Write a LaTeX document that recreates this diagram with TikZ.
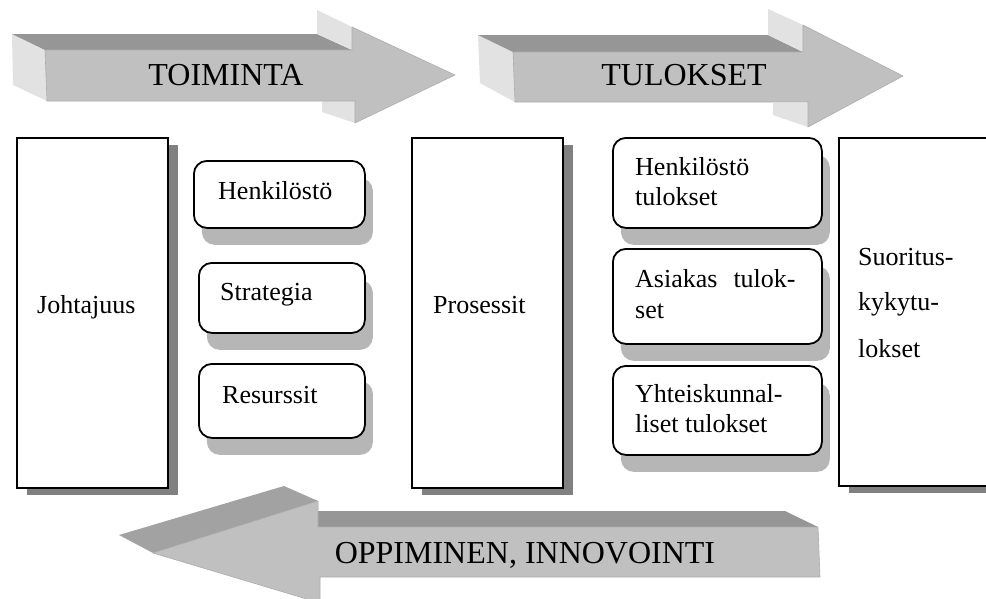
\documentclass[tikz,border=0pt]{standalone}
\usepackage{fontspec}
\setmainfont{Liberation Serif}
\usetikzlibrary{shadows}
\definecolor{frontgray}{HTML}{C0C0C0}
\definecolor{topgray}{HTML}{969696}
\definecolor{headgray}{HTML}{A2A2A2}
\definecolor{sidegray}{HTML}{E2E2E2}
\definecolor{edgegray}{HTML}{ADADAD}
\definecolor{shadowgray}{HTML}{808080}
\definecolor{softshadow}{HTML}{B6B6B6}
\begin{document}
\begin{tikzpicture}[x=1pt,y=-1pt,
  bigbox/.style={draw=black, line width=1.6pt, fill=white, rectangle, inner sep=0pt,
    anchor=north west,
    drop shadow={shadow xshift=10pt, shadow yshift=-7pt, fill=shadowgray, opacity=1}},
  softbox/.style={draw=black, line width=1.8pt, fill=white, rectangle, rounded corners=13pt,
    inner sep=0pt, anchor=north west,
    drop shadow={shadow xshift=8pt, shadow yshift=-17pt, fill=softshadow, opacity=1}},
  lbl/.style={anchor=base west, inner sep=0pt, font=\fontsize{26}{30}\selectfont},
  arrowlbl/.style={anchor=base, inner sep=0pt, font=\fontsize{32}{38}\selectfont},
  frontface/.style={fill=frontgray, draw=edgegray, line width=0.6pt, line join=round},
]
\useasboundingbox (0,0) rectangle (986,598);
\fill[white] (0,0) rectangle (986,598);

% ---------- top arrow 1: TOIMINTA ----------
\fill[sidegray] (12,34) -- (45,50) -- (47,101) -- (13,85) -- cycle;
\fill[topgray] (12,34) -- (317,34) -- (352,50) -- (45,50) -- cycle;
\fill[sidegray] (317,10) -- (352,27) -- (352,50) -- (317,34) -- cycle;
\fill[sidegray] (322,100) -- (355,101) -- (355,123) -- (322,112) -- cycle;
\filldraw[frontface] (45,50) -- (352,50) -- (352,27) -- (455,75) -- (355,123) -- (355,101) -- (47,101) -- cycle;
\node[arrowlbl] (toiminta) at (226,85) {TOIMINTA};

% ---------- top arrow 2: TULOKSET ----------
\fill[sidegray] (478,35) -- (513,52) -- (515,102) -- (480,83) -- cycle;
\fill[topgray] (478,35) -- (768,35) -- (803,52) -- (513,52) -- cycle;
\fill[sidegray] (768,9) -- (803,25) -- (803,52) -- (768,35) -- cycle;
\fill[sidegray] (773,103) -- (808,103) -- (808,127) -- (773,115) -- cycle;
\filldraw[frontface] (513,52) -- (803,52) -- (803,25) -- (903,76) -- (808,127) -- (808,102) -- (515,102) -- cycle;
\node[arrowlbl] (tulokset) at (684,85) {TULOKSET};

% ---------- bottom arrow: OPPIMINEN, INNOVOINTI ----------
\fill[headgray] (119,535) -- (284,486) -- (318,501) -- (153,553) -- cycle;
\fill[topgray] (285,511) -- (785,511) -- (818,527) -- (318,527) -- cycle;
\filldraw[frontface] (318,501) -- (318,527) -- (818,527) -- (820,577) -- (320,577) -- (320,603) -- (153,553) -- cycle;
\node[arrowlbl] (oppiminen) at (525,563) {OPPIMINEN, INNOVOINTI};

% ---------- big boxes ----------
\node[bigbox, minimum width=151pt, minimum height=350pt] (johtajuus) at (16,137) {};
\node[bigbox, minimum width=151pt, minimum height=350pt] (prosessit) at (411,137) {};
\node[bigbox, minimum width=170pt, minimum height=348pt] (suoritus) at (838,137) {};

% ---------- left column rounded boxes ----------
\node[softbox, minimum width=171pt, minimum height=67pt] (henk) at (193,160) {};
\node[softbox, minimum width=166pt, minimum height=70pt] (strat) at (198,262) {};
\node[softbox, minimum width=166pt, minimum height=74pt] (resu) at (198,363) {};

% ---------- right column rounded boxes ----------
\node[softbox, minimum width=209pt, minimum height=90pt] (henkt) at (612,137) {};
\node[softbox, minimum width=209pt, minimum height=95pt] (asiak) at (612,248) {};
\node[softbox, minimum width=209pt, minimum height=89pt] (yhteis) at (612,365) {};

% ---------- texts ----------
\node[lbl] (tjoht) at (37,313) {Johtajuus};
\node[lbl] (thenk) at (218,199) {Henkilöstö};
\node[lbl] (tstrat) at (220,300) {Strategia};
\node[lbl] (tresu) at (222,403) {Resurssit};
\node[lbl] (tpros) at (433,313) {Prosessit};
\node[lbl] (thenkt1) at (635,175) {Henkilöstö};
\node[lbl] (thenkt2) at (635,205) {tulokset};
\node[lbl] (tasiak1) at (635,287) {Asiakas\hspace{16pt}tulok-};
\node[lbl] (tasiak2) at (635,318) {set};
\node[lbl] (tyht1) at (635,402) {Yhteiskunnal-};
\node[lbl] (tyht2) at (635,432) {liset tulokset};
\node[lbl] (tsuor1) at (858,265) {Suoritus-};
\node[lbl] (tsuor2) at (858,310) {kykytu-};
\node[lbl] (tsuor3) at (858,357) {lokset};
\end{tikzpicture}
\end{document}
